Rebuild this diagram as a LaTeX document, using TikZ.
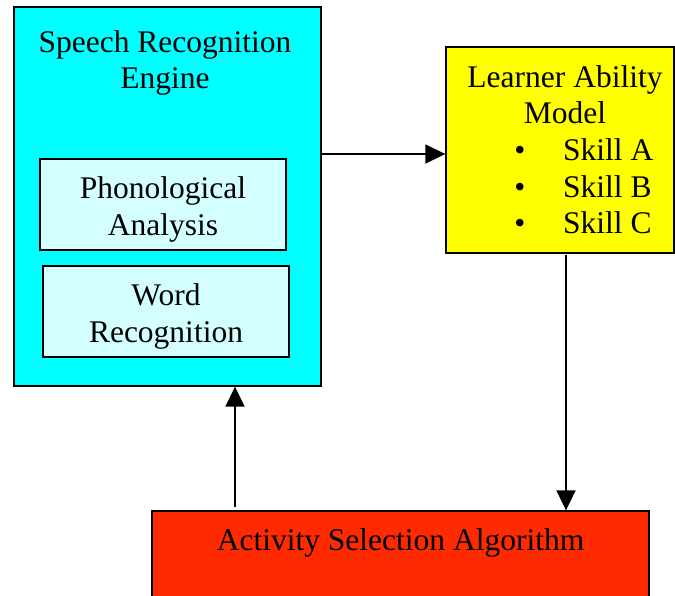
\documentclass[tikz,border=0pt]{standalone}
\usepackage{fontspec}
\setmainfont{Liberation Serif}
\newfontfamily\tnr{Liberation Serif}
\usetikzlibrary{arrows.meta}
\definecolor{cyanbox}{HTML}{00FFFF}
\definecolor{lightcyan}{HTML}{D4FFFF}
\definecolor{yellowbox}{HTML}{FFFF00}
\definecolor{redbox}{HTML}{FF2A00}
\tikzset{
  box/.style={draw=black, line width=1.3pt, rectangle, inner sep=0pt},
  txt/.style={anchor=base, inner sep=0pt, font=\tnr\fontsize{31.5}{36}\selectfont},
  conn/.style={line width=1.5pt, -{Triangle[length=20pt,width=19pt]}}
}
\begin{document}
\begin{tikzpicture}[x=1pt,y=-1pt]
\useasboundingbox (0,0) rectangle (675,595);
% boxes
\node[box, fill=cyanbox, minimum width=307pt, minimum height=379pt] (sre) at (167.5,196.5) {};
\node[box, fill=lightcyan, minimum width=246pt, minimum height=91pt] (pa) at (163,204.5) {};
\node[box, fill=lightcyan, minimum width=246pt, minimum height=91pt] (wr) at (166,311.5) {};
\node[box, fill=yellowbox, minimum width=228pt, minimum height=206pt] (lam) at (560,150) {};
\node[box, fill=redbox, minimum width=497pt, minimum height=92pt] (asa) at (400.5,557) {};
% texts
\node[txt] (t1) at (165,52) {Speech Recognition};
\node[txt] (t2) at (165,88) {Engine};
\node[txt] (t3) at (163,198) {Phonological};
\node[txt] (t4) at (163,235) {Analysis};
\node[txt] (t5) at (166,305) {Word};
\node[txt] (t6) at (166,342) {Recognition};
\node[txt] (t7) at (565,87) {Learner Ability};
\node[txt] (t8) at (565,123) {Model};
\node[txt] (b1) at (520,160) {\textbullet};
\node[txt] (b2) at (520,197) {\textbullet};
\node[txt] (b3) at (520,233) {\textbullet};
\node[txt, anchor=base west] (s1) at (563,160) {Skill A};
\node[txt, anchor=base west] (s2) at (563,197) {Skill B};
\node[txt, anchor=base west] (s3) at (563,233) {Skill C};
\node[txt] (t9) at (400.5,550) {Activity Selection Algorithm};
% connectors
\coordinate (a1) at (322,154);
\draw[conn] (a1) -- (lam.west |- a1);
\coordinate (a2) at (566,255);
\draw[conn] (a2) -- (asa.north -| a2);
\coordinate (a3) at (235,507);
\draw[conn] (a3) -- (sre.south -| a3);
\end{tikzpicture}
\end{document}
